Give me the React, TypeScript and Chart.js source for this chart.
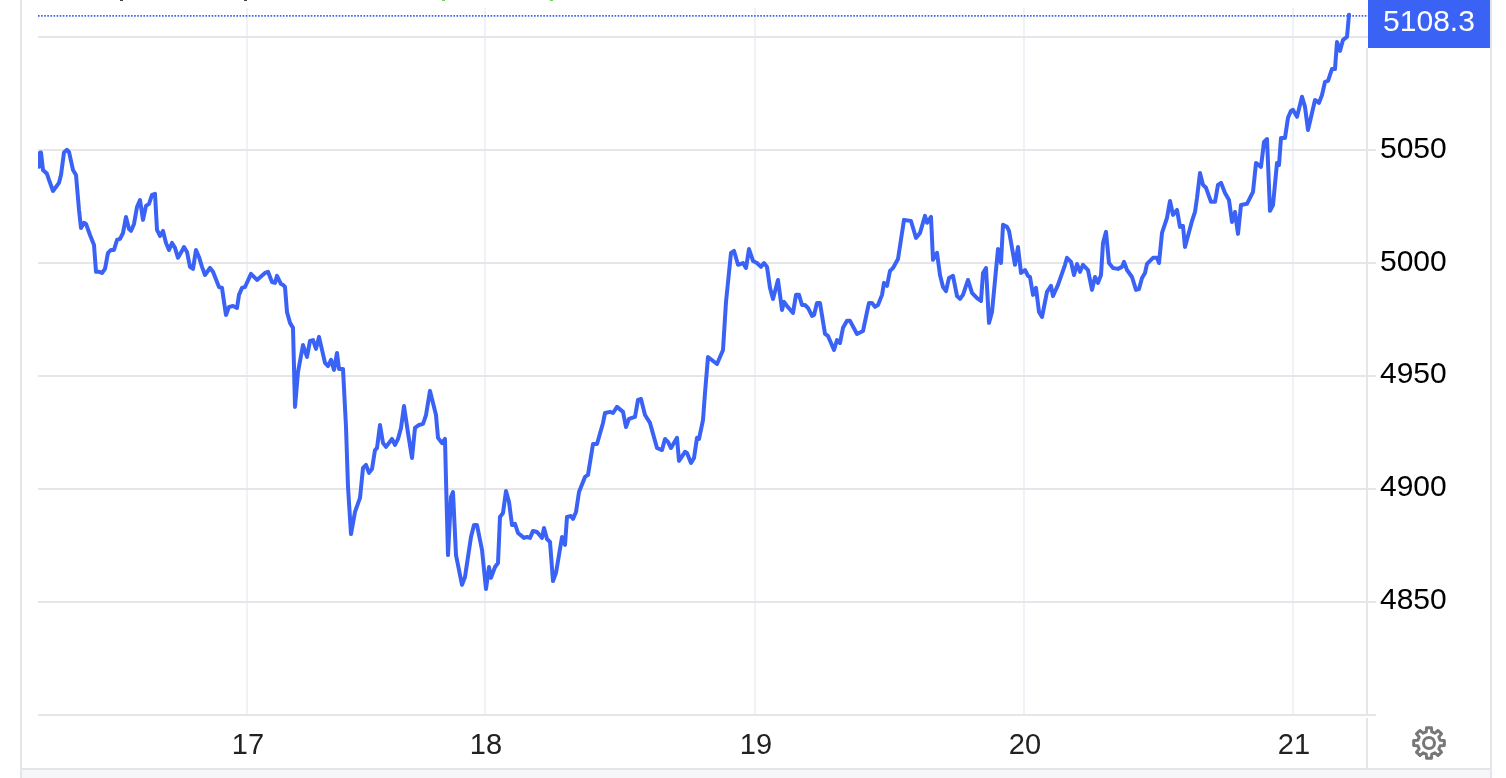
import React, { useEffect, useRef } from "react";
import { Chart, registerables } from "chart.js";

Chart.register(...registerables);

// Elapsed time along the session-compressed axis, and the price at that time.
const times = [
1,2,3,5,9,11,15,21,23,26,29,31,35,38,41,43,46,48,52,56,58,61,64,67,70,73,76,79,82,85,88,91,93,96,99,102,105,108,111,114,117,119,122,125,128,131,134,137,140,144,146,149,152,155,158,161,164,167,172,175,181,184,186,188,191,195,199,201,204,207,213,219,227,230,234,237,239,243,245,247,249,252,255,257,260,265,269,272,275,278,281,287,290,293,296,299,301,305,308,310,313,317,322,325,328,331,334,337,339,342,345,348,354,357,360,363,366,370,374,377,381,385,388,392,398,400,404,407,408,410,413,415,418,424,427,430,433,436,439,444,448,451,453,457,460,462,465,468,471,474,477,480,486,489,492,495,499,504,506,509,512,515,518,524,527,529,533,535,538,541,547,550,555,559,561,565,567,572,575,579,585,588,591,597,600,603,607,612,619,624,627,630,633,639,641,647,649,653,656,659,661,665,667,670,679,685,688,693,696,700,705,708,711,715,719,723,726,729,732,735,740,744,746,749,755,758,761,764,767,770,774,776,779,782,787,790,796,799,802,805,809,812,819,825,829,831,834,837,840,844,846,849,852,855,860,866,873,878,882,887,889,893,895,899,902,905,908,911,915,919,922,925,930,934,939,943,945,948,951,954,960,963,965,969,971,977,980,983,987,990,992,995,998,1001,1004,1009,1013,1015,1020,1027,1029,1033,1036,1039,1042,1045,1050,1054,1057,1060,1063,1065,1068,1071,1075,1080,1084,1086,1089,1094,1098,1101,1104,1107,1109,1115,1119,1121,1124,1129,1132,1135,1139,1142,1145,1147,1154,1157,1159,1162,1165,1168,1173,1177,1180,1183,1187,1191,1194,1197,1200,1203,1209,1215,1218,1223,1226,1229,1232,1235,1239,1241,1243,1247,1250,1253,1255,1259,1264,1267,1270,1277,1281,1284,1287,1290,1294,1297,1299,1302,1305,1309,1311,
];

const prices = [
5042.7,5048.9,5049,5041.3,5039.6,5036.9,5032,5035.6,5039.1,5049,5050.2,5049.3,5041.3,5039.1,5023.6,5015.6,5017.9,5017.4,5012.5,5008.1,4996.2,4996.2,4995.7,4997.5,5004.6,5005.9,5005.9,5010.3,5010.8,5013.4,5020.5,5015.2,5014.3,5017.4,5024.9,5028,5019.2,5025.4,5026.3,5030.3,5030.7,5014.8,5012.1,5014.3,5009,5005.9,5009,5006.8,5002.4,5005.5,5007.2,5005,4998.4,4997.5,5005.9,5002.8,4998.4,4994.8,4997.9,4996.2,4989.5,4989.1,4982.9,4977.1,4980.7,4981.1,4980.2,4986,4989.1,4989.5,4995.3,4992.6,4995.7,4996.2,4991.7,4991.3,4994.4,4990.8,4990.4,4989.5,4978.4,4973.6,4971.4,4936.4,4951.9,4963.8,4958.5,4965.6,4966,4962.1,4967.4,4955.9,4954.5,4957.2,4952.8,4960.3,4953.2,4953.2,4927.5,4901,4880.1,4889.9,4896.1,4909.4,4910.7,4907.2,4908.9,4917.3,4918.2,4928.4,4920.4,4918.7,4922.2,4919.6,4922.2,4927.1,4936.8,4924.9,4913.8,4927.1,4928.4,4928.9,4932.8,4943.5,4932.8,4922.7,4920.4,4922.2,4904.1,4870.8,4896.5,4898.7,4870.8,4857.6,4861.1,4870,4878.8,4884.1,4884.1,4873.1,4855.8,4865.5,4860.7,4865.5,4867.3,4887.7,4889.4,4899.2,4894.3,4884.1,4884.6,4880.6,4878.4,4878.8,4878.4,4881.5,4881,4878.4,4882.8,4877.9,4876.6,4859.3,4862.9,4878.8,4875.3,4887.7,4888.1,4886.8,4889.9,4898.7,4905.4,4906.3,4920,4920,4923.1,4929.3,4933.7,4934.2,4933.7,4936.4,4934.2,4927.5,4931.1,4932,4939.5,4939.9,4932.8,4929.3,4918.2,4917.3,4922.2,4920.9,4918.2,4922.7,4912.5,4916.5,4916,4911.6,4913.8,4922.7,4922.2,4930.6,4942.6,4958.5,4955.4,4961.6,4982.9,5004.6,5005.5,4999.3,5000.1,4997.9,5006.3,5001,5000.1,4998.4,5000.1,4998.4,4989.1,4984.2,4992.6,4979.3,4982.9,4981.1,4978,4986,4986,4981.5,4981.5,4980.2,4976.7,4977.1,4982.4,4982.4,4968.7,4967.8,4961.6,4966,4964.7,4971.4,4974.5,4974.5,4968.7,4970,4978.4,4982.4,4982.4,4980.7,4981.5,4986,4991.3,4990,4996.6,4997.9,5001.9,5019.2,5018.7,5011.2,5013.4,5021,5017.9,5020.5,5001.5,5004.6,4994.8,4989.5,4987.7,4993.5,4994.4,4985.5,4984.2,4986,4992.6,4986.9,4984.6,4983.3,4995.7,4997.9,4973.6,4978.4,5006.3,5000.1,5017,5016.1,5014.3,4999.3,5007.2,4995.7,4997,4994.4,4993.9,4986,4989.1,4978.4,4976.2,4987.3,4990,4985.5,4990.4,4999.3,5002.4,5000.6,4994.8,4999.7,4996.2,4999.3,4997,4988.2,4993.9,4991.3,4994.8,5009,5013.9,5000.1,4997.9,4997.5,4998.4,5000.6,4997,4993.9,4988.2,4988.6,4993.5,4995.7,4999.7,5002.4,5002.4,5000.1,5013.4,5020.1,5027.6,5021.4,5023.6,5016.1,5016.5,5007.2,5018.7,5022.7,5028.9,5040,5034.7,5033.4,5027.2,5027.2,5034.7,5035.6,5031.1,5028,5018.3,5022.7,5013,5025.8,5026.3,5031.6,5044.4,5042.7,5053.7,5055,5023.2,5025.8,5044.4,5043.5,5055.5,5055.5,5064.4,5067.5,5067.9,5064.8,5073.7,5069.2,5059,5072.3,5071,5074.5,5080.3,5080.7,5086,5086,5098,5094,5098.9,5100.2,5110,
];

const dayTickTimes = [209, 447, 717, 986, 1255];
const dayTickLabels = ["17", "18", "19", "20", "21"];
const priceGridValues = [4800, 4850, 4900, 4950, 5000, 5050, 5100];
const priceTickLabels = ["", "4850", "4900", "4950", "5000", "5050", ""];
const lastPriceLabel = "5108.3";
const lastPriceLevel = 5109.5;

const BLUE = "#3a63f6";
const FONT = "'Liberation Sans', Arial, sans-serif";

function gearPath(cx: number, cy: number, rOut: number, rIn: number, teeth: number) {
  const pts: string[] = [];
  const step = (Math.PI * 2) / teeth;
  for (let i = 0; i < teeth; i++) {
    const a = i * step - Math.PI / 2;
    const w = step * 0.2;
    const w2 = step * 0.31;
    const seq: [number, number][] = [
      [rIn, a - w2],
      [rOut, a - w],
      [rOut, a + w],
      [rIn, a + w2],
    ];
    for (const [r, t] of seq) {
      pts.push(`${(cx + r * Math.cos(t)).toFixed(2)} ${(cy + r * Math.sin(t)).toFixed(2)}`);
    }
  }
  return "M" + pts.join("L") + "Z";
}

const framePlugin = {
  id: "frame",
  beforeDraw(chart: any) {
    const { ctx, width, height } = chart;
    ctx.save();
    ctx.fillStyle = "#ffffff";
    ctx.fillRect(0, 0, width, height);
    ctx.fillStyle = "#f6f7f9";
    ctx.fillRect(22, 770, 1468, 8);
    ctx.fillStyle = "#e4e5ea";
    ctx.fillRect(20, 0, 2, height);
    ctx.fillRect(1490, 0, 2, height);
    ctx.fillRect(22, 768, 1468, 2);
    ctx.fillStyle = "#e6e6e8";
    ctx.fillRect(1366, 48, 2, 666);
    ctx.fillRect(1366, 718, 2, 50);
    // Descenders of the header text cropped off at the top edge of the picture.
    ctx.fillStyle = "#444444";
    ctx.fillRect(120, 0, 3, 1);
    ctx.fillRect(244, 0, 3, 1);
    ctx.fillStyle = "#6fd35a";
    ctx.fillRect(442, 0, 3, 1);
    ctx.fillRect(550, 0, 3, 1);
    ctx.restore();
  },
  afterDraw(chart: any) {
    const { ctx } = chart;
    ctx.save();
    ctx.fillStyle = BLUE;
    ctx.fillRect(1368, 0, 122, 48);
    ctx.fillStyle = "#ffffff";
    ctx.font = `30px ${FONT}`;
    ctx.textAlign = "center";
    ctx.textBaseline = "middle";
    ctx.fillText(lastPriceLabel, 1429, 23);
    ctx.restore();
  },
};

export default function App() {
  const ref = useRef<HTMLCanvasElement>(null);
  useEffect(() => {
    if (!ref.current) return;
    const chart = new Chart(ref.current, {
      type: "line",
      data: {
        datasets: [
          {
            data: times.map((t, i) => ({ x: t, y: prices[i] })),
            borderColor: BLUE,
            borderWidth: 4,
            pointRadius: 0,
            tension: 0,
            borderJoinStyle: "round",
            borderCapStyle: "round",
          },
          {
            data: [
              { x: 0, y: lastPriceLevel },
              { x: 1330, y: lastPriceLevel },
            ],
            borderColor: BLUE,
            borderWidth: 1.8,
            borderDash: [1.6, 1.5],
            pointRadius: 0,
          },
        ],
      },
      options: {
        animation: false,
        responsive: false,
        parsing: false,
        normalized: true,
        layout: { padding: { left: 38, top: 8, right: 0, bottom: 0 } },
        plugins: { legend: { display: false }, tooltip: { enabled: false } },
        scales: {
          x: {
            type: "linear",
            min: 0,
            max: 1330,
            afterFit: (s: any) => {
              s.height = 63;
              s.paddingLeft = 0;
              s.paddingRight = 0;
            },
            afterBuildTicks: (s: any) => {
              s.ticks = dayTickTimes.map((v) => ({ value: v }));
            },
            border: { display: false },
            grid: { color: "#eff3f7", lineWidth: 2, drawTicks: false },
            ticks: {
              autoSkip: false,
              maxRotation: 0,
              padding: 14,
              labelOffset: 1,
              color: "#222222",
              font: { family: FONT, size: 29 },
              callback: (v: any) => dayTickLabels[dayTickTimes.indexOf(v)] ?? "",
            },
          },
          y: {
            type: "linear",
            position: "right",
            min: 4800,
            max: 5113,
            afterFit: (s: any) => {
              s.width = 138;
              s.paddingTop = 0;
              s.paddingBottom = 0;
            },
            afterBuildTicks: (s: any) => {
              s.ticks = priceGridValues.map((v) => ({ value: v }));
            },
            border: { display: false },
            grid: { color: "#e6e6e8", lineWidth: 2, tickLength: 8 },
            ticks: {
              autoSkip: false,
              padding: 4,
              labelOffset: -1,
              color: "#000000",
              font: { family: FONT, size: 30 },
              callback: (v: any) => priceTickLabels[priceGridValues.indexOf(v)] ?? "",
            },
          },
        },
      },
      plugins: [framePlugin],
    } as any);
    return () => chart.destroy();
  }, []);

  return (
    <div style={{ position: "fixed", left: 0, top: 0, width: 1506, height: 778, overflow: "hidden", background: "#fff" }}>
      <canvas ref={ref} width={1506} height={778} style={{ display: "block", width: 1506, height: 778 }} />
      <svg width={40} height={40} viewBox="0 0 40 40" style={{ position: "absolute", left: 1409, top: 723 }}>
        <path d={gearPath(20, 20, 15.5, 11.5, 8)} fill="none" stroke="#777777" strokeWidth={3} strokeLinejoin="round" />
        <circle cx={20} cy={20} r={5.5} fill="none" stroke="#777777" strokeWidth={3} />
      </svg>
    </div>
  );
}
